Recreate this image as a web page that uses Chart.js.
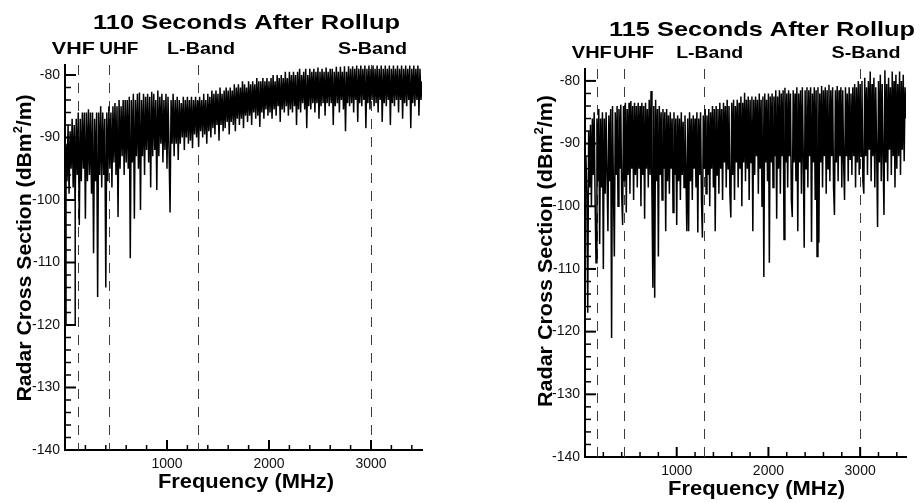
<!DOCTYPE html>
<html lang="en">
<head>
<meta charset="UTF-8">
<title>Radar Cross Section After Rollup</title>
<script src="https://cdn.jsdelivr.net/npm/chart.js"></script>
<style>
  html, body { margin: 0; padding: 0; background: #fff; }
  #wrap { position: relative; width: 921px; height: 503px; overflow: hidden; }
  canvas { position: absolute; top: 0; }
  #c110 { left: 0; }
  #c115 { left: 460px; }
</style>
</head>
<body>
<div id="wrap">
  <canvas id="c110" width="460" height="503"></canvas>
  <canvas id="c115" width="461" height="503"></canvas>
</div>
<script>
// ---- data ----
const panelTitles = ['110 Seconds After Rollup', '115 Seconds After Rollup'];
const bandLabels = ['VHF', 'UHF', 'L-Band', 'S-Band'];
const bandFreqsMHz = [130, 430, 1300, 3000];
const xTickLabels = [1000, 2000, 3000];
const yTickLabels = [-140, -130, -120, -110, -100, -90, -80];
const xMinorStep = 200;
const yMinorStep = 2;

// frequency grid of the samples: 10, 20, ... 3500 MHz
const freqStartMHz = 10;
const freqStepMHz = 10;

// RCS (dBm^2/m), 110 s after rollup, one row = 200 MHz
const rcs110 = [
  -91, -97, -88, -99, -89, -95, -87, -98, -88, -100, -87, -96, -86, -104, -87, -97, -86, -95, -86, -103,
  -86, -97, -85.5, -96, -86, -99, -86, -108.5, -87, -97, -86, -115.5, -86, -96, -85, -98, -86, -96, -87, -114,
  -86, -97, -85, -95, -86, -98, -85, -94, -84.5, -96, -85, -102.7, -84, -95, -85, -93, -84, -96, -84, -94,
  -84, -95, -83.5, -109.3, -84, -94, -83, -103, -84, -93, -83, -95, -82.8, -101.6, -84, -93, -83, -96, -83.5, -92,
  -83, -94, -83.5, -98, -82.7, -93, -83, -92, -84, -98.4, -82.5, -93, -83.5, -91, -83, -94, -84, -92, -83, -95,
  -83.5, -92, -102, -84, -91, -83, -93, -84, -91, -83.5, -93.6, -84, -91, -84.5, -90, -83.5, -92, -84, -90, -83.5,
  -91, -84, -90.5, -83.5, -91.7, -84, -89.5, -83.5, -90, -84, -91.5, -83.5, -89, -84, -90, -83, -89.5, -84, -91, -83,
  -89, -83.5, -90, -82.5, -88.5, -83, -89.5, -82.5, -88, -83, -90.5, -82, -88, -83, -89, -82.5, -88.5, -82, -87.5, -82.5,
  -89.5, -82, -87.5, -82.5, -88, -81.5, -89, -82, -87, -81.5, -88, -82, -87, -81, -88.5, -81.5, -86.5, -82, -87.5, -81,
  -86.5, -81.5, -88, -81, -86, -81.5, -87, -80.5, -86.5, -81, -88.3, -81, -86, -80.5, -87, -81, -85.5, -80.5, -86.5, -81,
  -86, -80.5, -87, -80, -85.5, -81, -86.5, -80, -85, -80.5, -87.5, -80, -85.5, -80.5, -86, -79.5, -85, -80.5, -86.5, -79.5,
  -85.5, -80, -86, -79.5, -85, -80, -88, -79.5, -85.5, -79, -86, -80, -84.5, -79.5, -85.5, -79, -88.5, -80, -85, -79,
  -85.5, -79.5, -84.5, -79, -86, -79.5, -84.5, -78.8, -87, -79.5, -85, -79, -84.5, -79.5, -86.5, -78.8, -84.5, -79.5, -85, -79,
  -84.5, -79, -88, -79.5, -85, -78.7, -84.5, -79.5, -86, -78.7, -84, -79.5, -85.5, -78.6, -89, -79.5, -84.5, -78.6, -85, -79,
  -84.5, -78.6, -86, -79, -84, -78.5, -87.5, -79, -84.5, -78.5, -85, -79, -84, -78.5, -88.5, -79, -84.5, -78.5, -85.5, -79,
  -84, -78.5, -85, -79, -84.5, -78.5, -86, -79, -84, -78.5, -87.5, -79, -84.5, -78.5, -85, -79, -84, -78.5, -88, -79,
  -84.5, -78.5, -85, -79, -84, -78.5, -86, -79, -84, -78.5, -87, -79, -84.5, -78.5, -85, -79, -84, -78.5, -88.5, -79,
  -84.5, -78.5, -85, -79, -84, -78.5, -86.5, -79, -84, -81
];

// low-frequency dropout at the left edge of the 110 s trace
const dropout110Freq = [10, 10, 100, 100];
const dropout110Rcs = [-93, -120, -120, -95];

// RCS (dBm^2/m), 115 s after rollup, one row = 200 MHz
const rcs115 = [
  -92, -98, -117, -88, -97, -87, -100, -86, -95, -85, -99, -109, -86, -96, -84.5, -106, -86, -97, -85, -110,
  -86, -98, -85, -95, -104, -85.5, -96, -84.5, -121, -84, -97, -108, -85, -95, -84, -100, -84.5, -94, -83.8, -98,
  -103, -84, -96, -83.5, -101, -84.5, -95, -83.5, -98, -83.2, -94, -84, -99, -83.5, -95, -84, -97, -83.5, -94, -84,
  -100, -83.5, -95, -84, -102, -83.5, -94, -84.5, -97, -83, -95, -81.6, -98, -113, -84, -114.6, -83, -96, -84.5, -108,
  -84, -95, -85, -99, -84.5, -94, -85, -104, -84.5, -96, -85.5, -98, -85, -94, -86, -101, -85, -95, -86, -103,
  -85.5, -96, -86, -99, -85, -95, -86.5, -97, -85.5, -94, -104, -86, -104, -85, -96, -86, -99, -85.5, -94, -86,
  -97, -85, -104.2, -86, -95, -85, -99, -105, -85.5, -94, -84.5, -98, -85.5, -95, -84.5, -100, -85, -94, -84, -97,
  -84.5, -104, -84, -95, -84.5, -98, -83.5, -94, -84.5, -99, -83.5, -93, -84, -97, -83, -94, -84, -98, -101.8, -83.5,
  -95, -83, -99, -84, -93, -83, -97, -83.5, -94, -82.5, -100, -83.5, -93, -81.9, -96, -83, -94, -82.5, -99, -83,
  -93, -82.5, -104, -83, -95, -82.5, -92, -83, -98, -82, -94, -83, -100, -82.5, -111.3, -82, -93, -83, -96, -82,
  -109, -82.5, -93, -82, -97, -82.5, -92, -81.5, -102, -82.5, -94, -81.5, -98, -82, -92, -81.5, -105.3, -81.1, -93, -82,
  -97, -81.5, -92, -82, -99, -101.7, -81.5, -93, -82, -96, -81, -104, -82, -93, -81.5, -98, -81, -92, -106.6, -81.5,
  -94, -81, -97, -81.5, -92, -81, -105.7, -82, -93, -81, -99, -81.5, -108, -81, -105.8, -82, -93, -80.8, -97, -81.5,
  -92, -81, -98, -81.5, -94, -80.6, -96, -81.5, -92, -81, -97, -101.4, -81.5, -93, -80.8, -96, -81.5, -92, -81, -97,
  -81.5, -93, -99, -81, -92, -82, -96, -81, -92.5, -82, -95, -81, -92, -80.5, -97, -81, -93, -80, -95, -80.5,
  -92, -80, -96, -98, -79.5, -92, -81, -95, -80, -91, -78.5, -96, -80.5, -92, -79.5, -97, -81, -91, -103.3, -80,
  -93, -79, -96, -80.5, -92, -101.4, -78.3, -93, -80.5, -96, -79.5, -91, -81, -95, -78.5, -92, -80, -97, -79, -94,
  -80.5, -92, -78.5, -95, -80, -91, -79, -92.8, -81, -86
];

// ---- drawing ----
const FONT = '"Liberation Sans", Arial, Helvetica, sans-serif';
Chart.defaults.font.family = FONT;
Chart.defaults.color = '#000';

function toPoints(freqs, vals) {
  return vals.map((v, i) => ({ x: freqs ? freqs[i] : freqStartMHz + i * freqStepMHz, y: v }));
}

function fitText(ctx, str, cx, base, font, width) {
  ctx.save();
  ctx.font = font;
  const w = ctx.measureText(str).width;
  ctx.translate(cx, base);
  ctx.scale(width / w, 1);
  ctx.textAlign = 'center';
  ctx.textBaseline = 'alphabetic';
  ctx.fillStyle = '#000';
  ctx.fillText(str, 0, 0);
  ctx.restore();
}

function drawYTitle(ctx, bx, cy, len) {
  const parts = [
    ['Radar Cross Section (dBm', 'bold 20px ' + FONT, 0],
    ['2', 'bold 12px ' + FONT, -9],
    ['/m)', 'bold 20px ' + FONT, 0]
  ];
  ctx.save();
  let total = 0;
  const ws = parts.map(p => { ctx.font = p[1]; const w = ctx.measureText(p[0]).width; total += w; return w; });
  ctx.translate(bx, cy);
  ctx.rotate(-Math.PI / 2);
  ctx.scale(len / total, 1);
  ctx.textAlign = 'left';
  ctx.textBaseline = 'alphabetic';
  ctx.fillStyle = '#000';
  let cx = -total / 2;
  parts.forEach((p, i) => { ctx.font = p[1]; ctx.fillText(p[0], cx, p[2]); cx += ws[i]; });
  ctx.restore();
}

function decor(p) {
  return {
    id: 'decor',
    beforeDatasetsDraw(chart) {
      const { ctx, chartArea: a, scales: { x } } = chart;
      ctx.save();
      ctx.strokeStyle = '#3a3a3a';
      ctx.lineWidth = 1;
      ctx.setLineDash([10, 8]);
      bandFreqsMHz.forEach(f => {
        const px = Math.round(x.getPixelForValue(f)) + 0.5;
        ctx.beginPath();
        ctx.moveTo(px, a.top);
        ctx.lineTo(px, a.bottom);
        ctx.stroke();
      });
      ctx.restore();
    },
    afterDatasetsDraw(chart) {
      const { ctx, chartArea: a, scales: { x, y } } = chart;
      ctx.save();
      ctx.strokeStyle = '#000';
      y.ticks.forEach(t => {
        if (t.value <= -140) return;
        const major = yTickLabels.includes(t.value);
        const py = y.getPixelForValue(t.value);
        ctx.lineWidth = major ? 2 : 1.5;
        ctx.beginPath();
        ctx.moveTo(a.left, py);
        ctx.lineTo(a.left + (major ? 11 : 6), py);
        ctx.stroke();
      });
      x.ticks.forEach(t => {
        if (t.value <= 0) return;
        const major = xTickLabels.includes(t.value);
        const px = x.getPixelForValue(t.value);
        ctx.lineWidth = major ? 2 : 1.5;
        ctx.beginPath();
        ctx.moveTo(px, a.bottom);
        ctx.lineTo(px, a.bottom - (major ? 10 : 5));
        ctx.stroke();
      });
      ctx.restore();
    },
    afterDraw(chart) {
      const ctx = chart.ctx;
      fitText(ctx, p.title, p.titleX, p.titleBase, 'bold 21px ' + FONT, p.titleW);
      bandLabels.forEach((lab, i) => {
        fitText(ctx, lab, p.bandX[i], p.bandBase, 'bold 17px ' + FONT, p.bandW[i]);
      });
      fitText(ctx, 'Frequency (MHz)', p.xTitleX, p.xTitleBase, 'bold 20px ' + FONT, p.xTitleW);
      drawYTitle(ctx, p.yTitleX, p.yTitleY, p.yTitleLen);
    }
  };
}

function makeChart(id, datasets, p) {
  const xTicks = [];
  for (let v = 0; v < 3500; v += xMinorStep) xTicks.push({ value: v });
  const yTicks = [];
  for (let v = -140; v <= -80; v += yMinorStep) yTicks.push({ value: v });
  return new Chart(document.getElementById(id), {
    type: 'line',
    data: { datasets: datasets },
    options: {
      responsive: false,
      animation: false,
      devicePixelRatio: 1,
      layout: { padding: { left: 0, top: p.top, right: p.right, bottom: 0 } },
      plugins: { legend: { display: false }, tooltip: { enabled: false } },
      scales: {
        x: {
          type: 'linear', min: 0, max: 3500,
          afterBuildTicks: s => { s.ticks = xTicks.slice(); },
          afterFit: s => { s.height = p.xAxisH; },
          grid: { display: false, drawTicks: false },
          border: { display: true, color: '#000', width: 2 },
          ticks: {
            padding: 6, autoSkip: false, maxRotation: 0, color: '#111',
            font: { size: 14 },
            callback: v => xTickLabels.includes(v) ? String(v) : ''
          }
        },
        y: {
          type: 'linear', min: -140, max: p.yMax,
          afterBuildTicks: s => { s.ticks = yTicks.slice(); },
          afterFit: s => { s.width = p.yAxisW; },
          grid: { display: false, drawTicks: false },
          border: { display: true, color: '#000', width: 2 },
          ticks: {
            padding: 5, autoSkip: false, color: '#111',
            font: { size: 14 },
            callback: v => yTickLabels.includes(v) ? String(v) : ''
          }
        }
      }
    },
    plugins: [decor(p)]
  });
}

const traceStyle = { borderColor: '#000', borderWidth: 1.5, pointRadius: 0, tension: 0, fill: false };

makeChart('c110', [
  Object.assign({ data: toPoints(null, rcs110) }, traceStyle),
  Object.assign({ data: toPoints(dropout110Freq, dropout110Rcs) }, traceStyle)
], {
  top: 65, right: 38, xAxisH: 53, yAxisW: 65, yMax: -78.4,
  title: panelTitles[0], titleX: 246.5, titleBase: 29, titleW: 307,
  bandX: [73.3, 118.8, 201, 372.5], bandW: [43, 39, 68, 69], bandBase: 54,
  xTitleX: 246, xTitleBase: 488, xTitleW: 176,
  yTitleX: 31, yTitleY: 248, yTitleLen: 307
});

makeChart('c115', [
  Object.assign({ data: toPoints(null, rcs115) }, traceStyle)
], {
  top: 69, right: 15, xAxisH: 46, yAxisW: 125, yMax: -78.1,
  title: panelTitles[1], titleX: 302, titleBase: 36, titleW: 306,
  bandX: [131.8, 173.5, 249.7, 406], bandW: [40, 41, 67, 69], bandBase: 57.5,
  xTitleX: 296.5, xTitleBase: 495, xTitleW: 177,
  yTitleX: 92, yTitleY: 251, yTitleLen: 312
});
</script>
</body>
</html>
